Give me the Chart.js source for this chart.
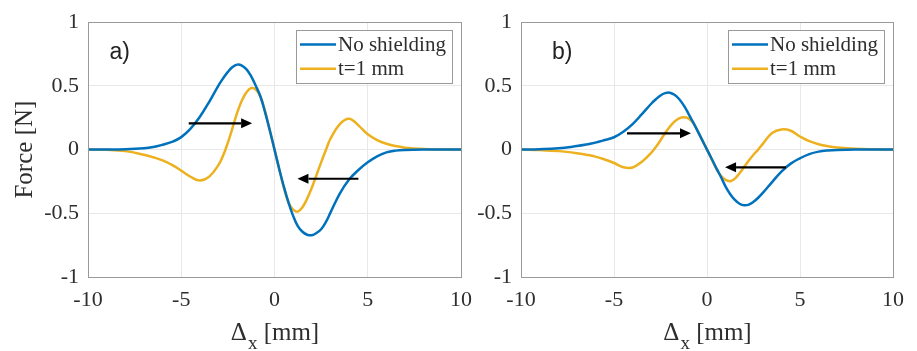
<!DOCTYPE html>
<html><head><meta charset="utf-8">
<script src="https://cdn.jsdelivr.net/npm/chart.js@4/dist/chart.umd.min.js"></script>
<style>
html,body{margin:0;padding:0;background:#fff;}
#wrap{position:relative;width:917px;height:351px;overflow:hidden;background:#fff;}
canvas{position:absolute;left:0;top:0;}
</style></head><body>
<div id="wrap"><canvas id="ca" width="917" height="351"></canvas><canvas id="cb" width="917" height="351"></canvas></div>
<script>
// ---- data ----
const xPositions = [-10,-9,-8,-7,-6.5,-6,-5.5,-5,-4.5,-4,-3.5,-3,-2.75,-2.5,-2.25,-2,-1.75,-1.5,-1.25,-1,-0.75,-0.5,-0.25,0,
  0.25,0.5,0.75,1,1.25,1.5,1.75,2,2.25,2.5,2.75,3,3.5,4,4.5,5,5.5,6,6.5,7,8,9,10];
const seriesNames = ['No shielding','t=1 mm'];
const panelA_noShield = [0,0,0.002,0.01,0.02,0.038,0.06,0.098,0.165,0.258,0.375,0.505,0.56,0.61,0.648,0.667,0.66,0.63,0.575,0.5,0.415,0.29,0.15,0,
  -0.15,-0.29,-0.415,-0.52,-0.6,-0.645,-0.668,-0.672,-0.655,-0.625,-0.57,-0.495,-0.345,-0.235,-0.16,-0.1,-0.053,-0.022,-0.008,-0.003,0,0,0];
const panelA_t1mm = [0,-0.002,-0.012,-0.04,-0.06,-0.085,-0.12,-0.165,-0.213,-0.243,-0.212,-0.12,-0.045,0.055,0.17,0.29,0.385,0.45,0.483,0.472,0.415,0.3,0.15,0,
  -0.15,-0.3,-0.415,-0.472,-0.487,-0.452,-0.385,-0.3,-0.2,-0.1,-0.005,0.085,0.2,0.243,0.19,0.12,0.075,0.046,0.028,0.015,0.004,0.001,0];
const panelB_noShield = [0,0.003,0.01,0.028,0.04,0.055,0.075,0.097,0.14,0.2,0.278,0.36,0.395,0.425,0.443,0.447,0.43,0.397,0.347,0.283,0.215,0.145,0.072,0,
  -0.072,-0.145,-0.215,-0.29,-0.35,-0.395,-0.425,-0.437,-0.432,-0.41,-0.378,-0.34,-0.255,-0.172,-0.11,-0.068,-0.035,-0.016,-0.007,-0.003,0,0,0];
const panelB_t1mm = [0,-0.004,-0.012,-0.028,-0.04,-0.055,-0.078,-0.105,-0.138,-0.14,-0.095,-0.025,0.02,0.073,0.13,0.18,0.22,0.245,0.254,0.245,0.21,0.145,0.072,0,
  -0.075,-0.15,-0.205,-0.238,-0.248,-0.228,-0.185,-0.135,-0.085,-0.04,0,0.045,0.13,0.158,0.148,0.103,0.066,0.042,0.027,0.017,0.006,0.002,0];
const xTickLabels = ['-10','-5','0','5','10'];
const yTickLabels = ['-1','-0.5','0','0.5','1'];
const panelLabels = ['a)','b)'];
const yAxisTitle = 'Force [N]';
const xAxisTitleParts = ['\u0394','x',' [mm]'];
// arrows: [from x, to x, y] in data units
const arrowsA = [[-4.6,-1.2,0.206],[4.5,1.23,-0.229]];
const arrowsB = [[-4.3,-0.86,0.128],[4.25,0.97,-0.139]];

const BLUE = '#0072BD', YELLOW = '#EDB120';
const SERIF = "'Liberation Serif','Times New Roman',serif";
const TEXT = '#2e2e2e';

const decor = {
  id: 'decor',
  afterDraw(chart, args, opts) {
    const ctx = chart.ctx, xs = chart.scales.x, ys = chart.scales.y, ca = chart.chartArea;
    ctx.save();
    // arrows
    ctx.strokeStyle = '#000'; ctx.fillStyle = '#000'; ctx.lineWidth = 2.2;
    opts.arrows.forEach(([x1, x2, y]) => {
      const p1 = xs.getPixelForValue(x1), p2 = xs.getPixelForValue(x2), py = ys.getPixelForValue(y);
      const d = Math.sign(p2 - p1), hl = 11, hw = 5;
      ctx.beginPath(); ctx.moveTo(p1, py); ctx.lineTo(p2 - d * hl, py); ctx.stroke();
      ctx.beginPath(); ctx.moveTo(p2, py); ctx.lineTo(p2 - d * hl, py - hw); ctx.lineTo(p2 - d * hl, py + hw); ctx.closePath(); ctx.fill();
    });
    // axes box
    const L = Math.round(ca.left), T = Math.round(ca.top), R = Math.round(ca.right), B = Math.round(ca.bottom);
    ctx.strokeStyle = '#9a9a9a'; ctx.lineWidth = 1;
    ctx.strokeRect(L + 0.5, T + 0.5, R - L, B - T);
    // legend
    const bw = 156, bh = 53, bx = R - 9 - bw, by = T + 8;
    ctx.fillStyle = '#fff'; ctx.fillRect(bx, by, bw, bh);
    ctx.strokeStyle = '#9a9a9a'; ctx.strokeRect(bx + 0.5, by + 0.5, bw, bh);
    chart.data.datasets.forEach((ds, i) => {
      const yy = by + 14.5 + i * 24.3;
      ctx.strokeStyle = ds.borderColor; ctx.lineWidth = 2.5;
      ctx.beginPath(); ctx.moveTo(bx + 4, yy); ctx.lineTo(bx + 40, yy); ctx.stroke();
      ctx.fillStyle = TEXT; ctx.font = '21px ' + SERIF; ctx.textBaseline = 'middle'; ctx.textAlign = 'left';
      ctx.fillText(ds.label, bx + 42, yy + 1);
    });
    // panel label
    ctx.fillStyle = '#222'; ctx.font = "23px 'Liberation Sans', Arial, sans-serif";
    ctx.textBaseline = 'alphabetic'; ctx.textAlign = 'left';
    ctx.fillText(opts.label, xs.getPixelForValue(opts.labelX), ys.getPixelForValue(opts.labelY));
    // x axis title with subscript
    const big = '25px ' + SERIF, small = '19px ' + SERIF;
    ctx.font = big; const w0 = ctx.measureText(xAxisTitleParts[0]).width, w2 = ctx.measureText(xAxisTitleParts[2]).width;
    ctx.font = small; const w1 = ctx.measureText(xAxisTitleParts[1]).width;
    let x0 = (ca.left + ca.right) / 2 - (w0 + w1 + w2) / 2;
    const base = chart.height - 11;
    ctx.fillStyle = TEXT;
    ctx.font = big; ctx.fillText(xAxisTitleParts[0], x0, base); x0 += w0 + 1;
    ctx.font = small; ctx.fillText(xAxisTitleParts[1], x0, base + 9); x0 += w1;
    ctx.font = big; ctx.fillText(xAxisTitleParts[2], x0, base);
    ctx.restore();
  }
};

function makeChart(id, s1, s2, pad, showYTitle, label, labelX, labelY, arrows) {
  const mk = (arr) => xPositions.map((x, i) => ({ x: x, y: arr[i] }));
  return new Chart(document.getElementById(id), {
    type: 'line',
    data: {
      datasets: [
        { label: seriesNames[0], data: mk(s1), borderColor: BLUE, borderWidth: 2.5, pointRadius: 0, tension: 0.4, fill: false },
        { label: seriesNames[1], data: mk(s2), borderColor: YELLOW, borderWidth: 2.5, pointRadius: 0, tension: 0.4, fill: false }
      ]
    },
    options: {
      responsive: false, animation: false,
      layout: { padding: pad },
      plugins: {
        legend: { display: false }, tooltip: { enabled: false },
        decor: { label: label, labelX: labelX, labelY: labelY, arrows: arrows }
      },
      scales: {
        x: {
          type: 'linear', min: -10, max: 10,
          afterFit: (s) => { s.height = 74; },
          grid: { color: '#e8e8e8', drawTicks: false },
          border: { display: false },
          ticks: { stepSize: 5, padding: 10, color: TEXT, font: { family: SERIF, size: 22 }, maxRotation: 0,
            callback: (v, i) => xTickLabels[i] }
        },
        y: {
          min: -1, max: 1,
          afterFit: (s) => { s.width = 88; },
          grid: { color: '#e8e8e8', drawTicks: false },
          border: { display: false },
          ticks: { stepSize: 0.5, padding: 9, color: TEXT, font: { family: SERIF, size: 22 },
            callback: (v, i) => yTickLabels[i] },
          title: { display: showYTitle, text: yAxisTitle, color: TEXT, font: { family: SERIF, size: 25 }, padding: { top: 10, bottom: 0 } }
        }
      }
    },
    plugins: [decor]
  });
}

makeChart('ca', panelA_noShield, panelA_t1mm, { left: 0, right: 456, top: 16, bottom: 0 }, true, panelLabels[0], -8.85, 0.71, arrowsA);
makeChart('cb', panelB_noShield, panelB_t1mm, { left: 433, right: 24, top: 16, bottom: 0 }, false, panelLabels[1], -8.33, 0.71, arrowsB);
</script>
</body></html>
